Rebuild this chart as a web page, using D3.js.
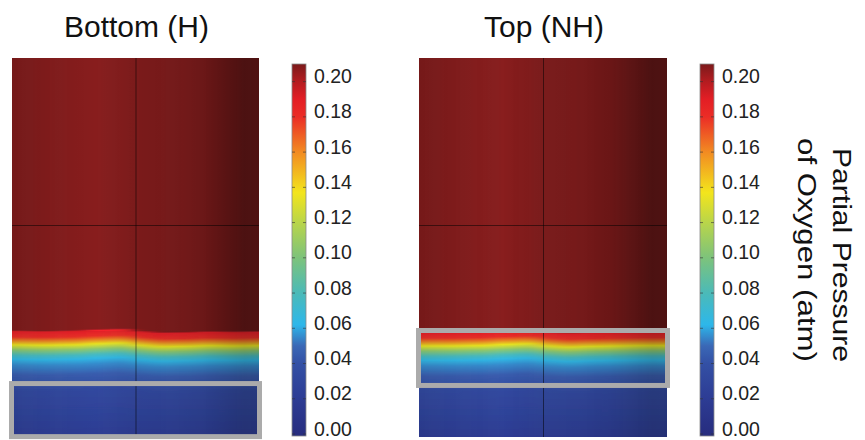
<!DOCTYPE html>
<html>
<head>
<meta charset="utf-8">
<script src="https://cdn.jsdelivr.net/npm/d3@7"></script>
<style>
body { margin: 0; background: #fff; }
svg { display: block; font-family: "Liberation Sans", Arial, sans-serif; }
</style>
</head>
<body>
<div id="chart"></div>
<script>
"use strict";

// ---- data ----
var panelTitles = ["Bottom (H)", "Top (NH)"];

// depth below the top of the gel (0 = top, 10 = bottom)
var depthStops   = [0, 7.18, 7.22, 7.36, 7.47, 7.57, 7.70, 7.84, 7.95, 8.10, 8.36, 8.76, 10];
// oxygen partial pressure (atm) at those depths
var bottomValues = [0.21, 0.21, 0.19, 0.18, 0.16, 0.135, 0.105, 0.078, 0.064, 0.055, 0.045, 0.032, 0.018];
var topValues    = [0.21, 0.21, 0.19, 0.18, 0.16, 0.135, 0.105, 0.078, 0.064, 0.055, 0.045, 0.032, 0.018];

// the front is not perfectly flat: depth shift across the width
var frontX      = [-1, -0.75, -0.5, -0.3, -0.12, 0.05, 0.2, 0.4, 0.6, 0.8, 1];
var bottomShift = [0, 0.01, 0.0, -0.03, -0.05, 0.01, 0.05, 0.04, 0.02, 0.03, 0.02];
var topShift    = [0.03, 0.03, 0.02, -0.01, -0.03, 0.03, 0.06, 0.04, 0.03, 0.02, 0.02];

// highlighted layers (depth range)
var bottomBox = [8.59, 9.99];
var topBox    = [7.19, 8.64];

// mesh lines
var gridX     = [0];
var gridDepth = [4.41];

// colour bar
var cbarTicks  = [0, 0.02, 0.04, 0.06, 0.08, 0.10, 0.12, 0.14, 0.16, 0.18, 0.20];
var cmapValues = [0, 0.02, 0.04, 0.05, 0.062, 0.08, 0.10, 0.12, 0.137, 0.16, 0.18, 0.19, 0.20, 0.21];
var cmapColors = ["#272d7f", "#2d3c94", "#3350a5", "#3a68b6", "#2db7ea", "#4bbab8", "#7dc37b",
                  "#b9d54a", "#f3e51c", "#f28b22", "#eb2d26", "#e31e25", "#b41c20", "#7b1a1b"];
var cbarLabel  = ["Partial Pressure", "of Oxygen (atm)"];

// ---- styling (lighting of the 3D render, not data) ----
var shadeAt = [0, 0.15, 0.34, 0.5, 0.65, 0.77, 0.88, 0.94, 1];
var shadeK  = [0.86, 0.93, 1.0, 0.9, 0.86, 0.79, 0.64, 0.56, 0.58];
var gain = 1.1;

var W = 865, H = 440;
var panels = [
	{ title: panelTitles[0], values: bottomValues, shift: bottomShift, box: bottomBox,
	  x0: 12, x1: 259, cbx: 292, id: "b" },
	{ title: panelTitles[1], values: topValues, shift: topShift, box: topBox,
	  x0: 419, x1: 667, cbx: 700, id: "t" }
];
var panelTop = 58, panelBottom = 437;

var svg = d3.select("#chart").append("svg")
	.attr("width", W).attr("height", H);
svg.append("rect").attr("width", W).attr("height", H).attr("fill", "#fff");

var defs = svg.append("defs");
defs.append("filter").attr("id", "hblur")
	.attr("x", "-10%").attr("width", "120%")
	.append("feGaussianBlur").attr("stdDeviation", "8 0.6");

var cmap = d3.scaleLinear().domain(cmapValues).range(cmapColors).clamp(true);

function lit(c, f) {
	var r = d3.rgb(c);
	return d3.rgb(Math.min(255, r.r * f), Math.min(255, r.g * f), Math.min(255, r.b * f)).formatHex();
}

var zScale = d3.scaleLinear().domain([0, 10]).range([panelTop, panelBottom]);
var cbarY = d3.scaleLinear().domain([0, 0.21]).range([434, 64]);

panels.forEach(function(p) {
	var xScale = d3.scaleLinear().domain([-1, 1]).range([p.x0, p.x1]);

	svg.append("text")
		.attr("x", (p.x0 + p.x1) / 2 + 1)
		.attr("y", 37)
		.attr("text-anchor", "middle")
		.style("font-size", "30px")
		.attr("fill", "#111")
		.text(p.title);

	defs.append("clipPath").attr("id", "clip-" + p.id)
		.append("rect")
		.attr("x", p.x0).attr("y", panelTop)
		.attr("width", p.x1 - p.x0).attr("height", panelBottom - panelTop);

	var g = svg.append("g").attr("clip-path", "url(#clip-" + p.id + ")");
	var field = g.append("g").attr("filter", "url(#hblur)");

	// one vertical strip per front sample, each with its own depth profile
	frontX.forEach(function(fx, i) {
		var xa = i === 0 ? xScale(-1) - 30 : (xScale(frontX[i - 1]) + xScale(fx)) / 2;
		var xb = i === frontX.length - 1 ? xScale(1) + 30 : (xScale(frontX[i + 1]) + xScale(fx)) / 2;
		var gid = "grad-" + p.id + "-" + i;
		var grad = defs.append("linearGradient").attr("id", gid)
			.attr("gradientUnits", "userSpaceOnUse")
			.attr("x1", 0).attr("x2", 0)
			.attr("y1", zScale(0)).attr("y2", zScale(10));
		depthStops.forEach(function(d, k) {
			var dd = (k === 0 || k === depthStops.length - 1) ? d : d + p.shift[i];
			grad.append("stop")
				.attr("offset", Math.max(0, Math.min(1, dd / 10)))
				.attr("stop-color", lit(cmap(p.values[k]), gain));
		});
		field.append("rect")
			.attr("x", xa).attr("y", panelTop - 5)
			.attr("width", xb - xa).attr("height", panelBottom - panelTop + 10)
			.attr("fill", "url(#" + gid + ")");
	});

	// lighting: strong on the red part, weaker lower down
	var shRed = defs.append("linearGradient").attr("id", "shr-" + p.id);
	var shLow = defs.append("linearGradient").attr("id", "shl-" + p.id);
	shadeAt.forEach(function(o, k) {
		shRed.append("stop").attr("offset", o)
			.attr("stop-color", "#000").attr("stop-opacity", 1 - shadeK[k]);
		var kb = (1 - (1 - shadeK[k]) * 0.5) / gain;
		shLow.append("stop").attr("offset", o)
			.attr("stop-color", "#000").attr("stop-opacity", 1 - kb);
	});
	var split = zScale(depthStops[1] + 0.02);
	g.append("rect")
		.attr("x", p.x0).attr("y", panelTop)
		.attr("width", p.x1 - p.x0).attr("height", split - panelTop)
		.attr("fill", "url(#shr-" + p.id + ")");
	g.append("rect")
		.attr("x", p.x0).attr("y", split)
		.attr("width", p.x1 - p.x0).attr("height", panelBottom - split)
		.attr("fill", "url(#shl-" + p.id + ")");

	// mesh lines
	g.selectAll(".gx").data(gridX).enter().append("line")
		.attr("x1", function(d) { return xScale(d) + 0.5; })
		.attr("x2", function(d) { return xScale(d) + 0.5; })
		.attr("y1", panelTop).attr("y2", panelBottom)
		.attr("stroke", "#000").attr("stroke-opacity", 0.5).attr("stroke-width", 1);
	g.selectAll(".gz").data(gridDepth).enter().append("line")
		.attr("x1", p.x0).attr("x2", p.x1)
		.attr("y1", function(d) { return Math.round(zScale(d)) + 0.5; })
		.attr("y2", function(d) { return Math.round(zScale(d)) + 0.5; })
		.attr("stroke", "#000").attr("stroke-opacity", 0.5).attr("stroke-width", 1);

	// highlighted layer
	svg.append("rect")
		.attr("x", xScale(-1) - 0.5)
		.attr("y", zScale(p.box[0]))
		.attr("width", xScale(1) - xScale(-1) + 1)
		.attr("height", zScale(p.box[1]) - zScale(p.box[0]))
		.attr("fill", "none")
		.attr("stroke", "#ababab")
		.attr("stroke-width", 5);

	// colour bar
	var cg = defs.append("linearGradient").attr("id", "cbar-" + p.id)
		.attr("gradientUnits", "userSpaceOnUse")
		.attr("x1", 0).attr("x2", 0)
		.attr("y1", cbarY(0)).attr("y2", cbarY(0.21));
	cmapValues.forEach(function(v, k) {
		cg.append("stop").attr("offset", v / 0.21).attr("stop-color", cmapColors[k]);
	});
	svg.append("rect")
		.attr("x", p.cbx).attr("y", cbarY(0.21))
		.attr("width", 14).attr("height", cbarY(0) - cbarY(0.21) + 2)
		.attr("fill", "url(#cbar-" + p.id + ")")
		.attr("stroke", "#8a8a8a").attr("stroke-width", 0.8);

	var t = svg.selectAll(".tk-" + p.id).data(cbarTicks).enter().append("g")
		.attr("transform", function(d) { return "translate(" + p.cbx + "," + cbarY(d) + ")"; });
	t.append("line").attr("x1", 0).attr("x2", 3)
		.attr("stroke", "#333").attr("stroke-opacity", 0.6);
	t.append("line").attr("x1", 11).attr("x2", 14)
		.attr("stroke", "#333").attr("stroke-opacity", 0.6);
	t.append("text")
		.attr("x", 22).attr("y", 1.5)
		.style("font-size", "19.5px")
		.attr("fill", "#222")
		.text(function(d) { return d.toFixed(2); });
});

// colour bar title, reads top to bottom
svg.append("text")
	.attr("transform", "translate(833,255) rotate(90)")
	.attr("text-anchor", "middle")
	.attr("textLength", 214).attr("lengthAdjust", "spacingAndGlyphs")
	.style("font-size", "26px").attr("fill", "#111")
	.text(cbarLabel[0]);
svg.append("text")
	.attr("transform", "translate(798,250) rotate(90)")
	.attr("text-anchor", "middle")
	.attr("textLength", 224).attr("lengthAdjust", "spacingAndGlyphs")
	.style("font-size", "26px").attr("fill", "#111")
	.text(cbarLabel[1]);
</script>
</body>
</html>
